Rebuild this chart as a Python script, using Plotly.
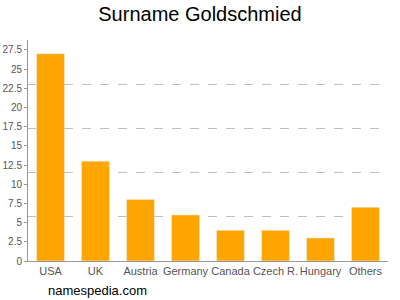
import plotly.graph_objects as go

categories = ["USA", "UK", "Austria", "Germany", "Canada", "Czech R.", "Hungary", "Others"]
values = [27, 13, 8, 6, 4, 4, 3, 7]
y_ticks = [0, 2.5, 5, 7.5, 10, 12.5, 15, 17.5, 20, 22.5, 25, 27.5]
y_max = 28.8
grid_vals = [5.76, 11.52, 17.28, 23.04, 28.8]

fig = go.Figure()
fig.add_trace(go.Bar(x=categories, y=values, marker_color="#FFA500", width=0.62, hoverinfo="skip"))
fig.add_trace(go.Scatter(x=categories, y=[None]*len(categories), yaxis="y2", showlegend=False, hoverinfo="skip"))

fig.update_layout(
    width=400, height=300,
    margin=dict(l=28, r=12, t=40, b=39, autoexpand=False),
    paper_bgcolor="white", plot_bgcolor="white",
    showlegend=False,
    font=dict(family="Liberation Sans, Arial, sans-serif", color="#555555", size=11),
    title=dict(text="Surname Goldschmied", x=0.5, xanchor="center", y=0.955, yanchor="middle",
               font=dict(size=20, color="#000000")),
    xaxis=dict(showline=True, linecolor="#999999", linewidth=1, ticks="", showgrid=False,
               tickangle=0, automargin=False,
               tickfont=dict(size=11, color="#555555")),
    yaxis=dict(range=[0, y_max], tickvals=y_ticks, ticktext=[f"{v:g}" for v in y_ticks],
               showline=True, linecolor="#999999", linewidth=1, ticks="outside", ticklen=3,
               tickcolor="#999999", showgrid=False, zeroline=False, automargin=False,
               tickfont=dict(size=10, color="#555555")),
    yaxis2=dict(range=[0, y_max], overlaying="y", side="right", tickvals=grid_vals,
                showticklabels=False, showgrid=True, gridcolor="#c0c0c0", griddash="dash",
                gridwidth=1, zeroline=False, showline=False, automargin=False),
    bargap=0.38,
)
fig.add_annotation(text="namespedia.com", xref="paper", yref="paper", x=0.05, y=-0.135,
                   xanchor="left", yanchor="middle", showarrow=False,
                   font=dict(size=13, color="#000000"))
fig.write_html("out.html")
